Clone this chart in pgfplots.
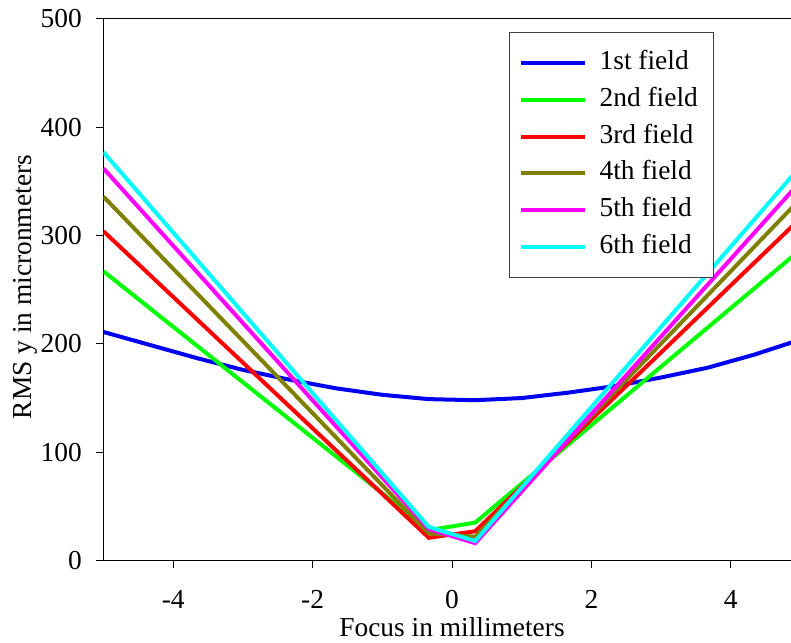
\documentclass[border=0pt]{standalone}
\usepackage{fontspec}
\setmainfont{Liberation Serif}
\usepackage{pgfplots}
\pgfplotsset{compat=1.18}

\definecolor{fieldone}{RGB}{0,0,240}
\definecolor{fieldtwo}{RGB}{0,255,0}
\definecolor{fieldthree}{RGB}{255,0,0}
\definecolor{fieldfour}{RGB}{128,128,0}
\definecolor{fieldfive}{RGB}{255,0,255}
\definecolor{fieldsix}{RGB}{0,255,255}

\newcommand{\chartfont}{\fontsize{27.5}{33}\selectfont}

\begin{document}
\begin{tikzpicture}
\begin{axis}[
  name=ax,
  scale only axis,
  width=697bp, height=541.5bp,
  xmin=-5, xmax=5, ymin=0, ymax=500,
  xtick={-4,-2,0,2,4},
  ytick={0,100,200,300,400,500},
  xtick pos=bottom, ytick pos=left,
  tick align=outside,
  major tick length=7bp,
  axis line style={line width=1bp},
  every tick/.style={black, line width=1bp},
  /pgf/number format/assume math mode=true,
  font=\chartfont,
  ticklabel style={font=\chartfont, inner sep=0pt},
  xticklabel shift=23bp,
  yticklabel shift=14.5bp,
  xlabel={Focus in millimeters},
  ylabel={RMS y in micronmeters},
  xlabel style={at={(axis description cs:0.5,-0.123)}, anchor=center, inner sep=0pt},
  ylabel style={at={(axis description cs:-0.1126,0.505)}, anchor=center, rotate=0, inner sep=0pt},
  legend cell align=left,
  legend image code/.code={\draw[#1] (0bp,0bp) -- (64bp,0bp);},
  legend style={
    at={(0.582,0.976)}, anchor=north west,
    draw=black!75, line width=1bp,
    inner xsep=9bp, inner ysep=18bp,
    font=\chartfont,
    nodes={inner xsep=7bp, inner ysep=0bp, text height=19bp, text depth=6bp},
    row sep=11.8bp,
    /tikz/every odd column/.append style={column sep=6bp},
  },
  every axis plot/.append style={line width=4bp},
]
% first field: smooth, shallow curve
\addplot[fieldone] coordinates {
  (-5,211) (-4.333,199) (-3.667,187) (-3,176) (-2.333,167) (-1.667,159)
  (-1,153) (-0.333,149) (0.333,148) (1,150) (1.667,155) (2.333,161)
  (3,169) (3.667,178) (4.333,190) (5,204)
};
\addlegendentry{1st field}
% outer fields: V-shaped around best focus
\addplot[fieldtwo] coordinates {(-5,267) (-0.333,28) (0.333,35) (5,287)};
\addlegendentry{2nd field}
\addplot[fieldthree] coordinates {(-5,304) (-0.333,21) (0.333,27) (5,316)};
\addlegendentry{3rd field}
\addplot[fieldfour] coordinates {(-5,336) (-0.333,25) (0.333,22) (5,334)};
\addlegendentry{4th field}
\addplot[fieldfive] coordinates {(-5,362) (-0.333,29) (0.333,16) (5,350)};
\addlegendentry{5th field}
\addplot[fieldsix] coordinates {(-5,377) (-0.333,31) (0.333,18) (5,364)};
\addlegendentry{6th field}
\end{axis}
\pgfresetboundingbox
\useasboundingbox (ax.south west) ++(-103.5bp,-82.5bp) rectangle ++(791bp,643bp);
\end{tikzpicture}
\end{document}
